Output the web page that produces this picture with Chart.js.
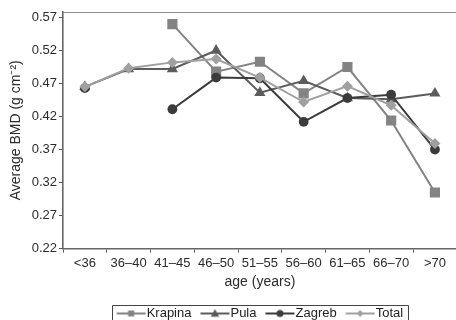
<!DOCTYPE html>
<html>
<head>
<meta charset="utf-8">
<script src="https://cdn.jsdelivr.net/npm/chart.js@4/dist/chart.umd.min.js"></script>
<style>
  html, body { margin: 0; padding: 0; overflow: hidden; background: #fff; }
  #wrap { width: 464px; height: 330px; }
</style>
</head>
<body>
<div id="wrap"><canvas id="bmdChart"></canvas></div>
<script>
var ageGroups = ["<36", "36–40", "41–45", "46–50", "51–55", "56–60", "61–65", "66–70", ">70"];
var yTicks = [0.22, 0.27, 0.32, 0.37, 0.42, 0.47, 0.52, 0.57];

var krapina = [null, null, 0.560, 0.488, 0.503, 0.455, 0.495, 0.414, 0.305];
var pula = [0.465, 0.492, 0.492, 0.520, 0.456, 0.474, 0.448, 0.446, 0.455];
var zagreb = [0.463, null, 0.431, 0.479, 0.478, 0.412, 0.448, 0.453, 0.370];
var total = [0.465, 0.493, 0.502, 0.507, 0.479, 0.442, 0.466, 0.437, 0.379];

var FONT = "'Liberation Sans', Arial, Helvetica, sans-serif";
var TEXT = "#2b2b2b";

// little "line + marker" pictures for the legend
// (canvas is 36 wide, drawing sits from 6.25 to 35.25 so it starts at the item's left edge)
function legendIcon(color, style, r) {
  var c = document.createElement("canvas");
  c.width = 36;
  c.height = 12;
  var g = c.getContext("2d");
  g.strokeStyle = color;
  g.fillStyle = color;
  g.lineWidth = 2;
  g.beginPath();
  g.moveTo(6.25, 6);
  g.lineTo(35.25, 6);
  g.stroke();
  var x = 20.75, y = 6;
  g.beginPath();
  if (style === "rect") {
    g.rect(x - r, y - r, 2 * r, 2 * r);
  } else if (style === "triangle") {
    g.moveTo(x, y - r);
    g.lineTo(x + r * 0.95, y + r * 0.7);
    g.lineTo(x - r * 0.95, y + r * 0.7);
    g.closePath();
  } else if (style === "circle") {
    g.arc(x, y, r, 0, Math.PI * 2);
  } else {
    g.moveTo(x, y - r);
    g.lineTo(x + r, y);
    g.lineTo(x, y + r);
    g.lineTo(x - r, y);
    g.closePath();
  }
  g.fill();
  return c;
}

var colors = ["#838383", "#5c5c5c", "#3b3b3b", "#a0a0a0"];
var icons = [
  legendIcon(colors[0], "rect", 3),
  legendIcon(colors[1], "triangle", 4.5),
  legendIcon(colors[2], "circle", 3.5),
  legendIcon(colors[3], "diamond", 3.5)
];

var framePlugin = {
  id: "frame",
  afterDraw: function (chart) {
    var ctx = chart.ctx;
    var a = chart.chartArea;
    ctx.save();
    ctx.strokeStyle = "#8c8c8c";
    ctx.lineWidth = 1;
    ctx.beginPath();
    ctx.moveTo(a.left, a.top + 0.5);
    ctx.lineTo(a.right, a.top + 0.5);
    ctx.stroke();

    // box round the legend items
    var boxes = chart.legend.legendHitBoxes;
    if (boxes && boxes.length) {
      var l = Infinity, r = -Infinity, t = Infinity, b = -Infinity;
      boxes.forEach(function (h) {
        l = Math.min(l, h.left);
        r = Math.max(r, h.left + h.width);
        t = Math.min(t, h.top);
        b = Math.max(b, h.top + h.height);
      });
      ctx.strokeStyle = "#444";
      ctx.beginPath();
      ctx.rect(Math.round(l - 4.5) + 0.5, Math.round(t - 2.5) + 0.5, Math.round(r - l + 10), Math.round(b - t + 8));
      ctx.stroke();
    }
    ctx.restore();
  }
};

var ctx = document.getElementById("bmdChart").getContext("2d");
var bmdChart = new Chart(ctx, {
  type: "line",
  data: {
    labels: ageGroups,
    datasets: [
      {
        label: "Krapina",
        data: krapina,
        borderColor: colors[0],
        backgroundColor: colors[0],
        pointStyle: "rect",
        pointRadius: 7.2,
        order: 4
      },
      {
        label: "Pula",
        data: pula,
        borderColor: colors[1],
        backgroundColor: colors[1],
        pointStyle: "triangle",
        pointRadius: 6.4,
        order: 3
      },
      {
        label: "Zagreb",
        data: zagreb,
        borderColor: colors[2],
        backgroundColor: colors[2],
        pointStyle: "circle",
        pointRadius: 4.9,
        order: 2
      },
      {
        label: "Total",
        data: total,
        borderColor: colors[3],
        backgroundColor: colors[3],
        pointStyle: "rectRot",
        pointRadius: 5.5,
        order: 1
      }
    ]
  },
  options: {
    responsive: true,
    maintainAspectRatio: false,
    animation: false,
    elements: {
      line: { borderWidth: 2, tension: 0, fill: false },
      point: { borderWidth: 0, hoverRadius: 6 }
    },
    layout: { padding: { top: 12, left: 0, right: 0, bottom: 0 } },
    scales: {
      x: {
        type: "category",
        offset: true,
        grid: {
          display: true,
          offset: true,
          drawOnChartArea: false,
          drawTicks: true,
          tickLength: 4,
          color: "#555"
        },
        border: { display: true, color: "#666", width: 1.6 },
        ticks: {
          autoSkip: false,
          maxRotation: 0,
          padding: 3,
          color: TEXT,
          font: { family: FONT, size: 13 }
        },
        title: {
          display: true,
          text: "age (years)",
          color: TEXT,
          padding: { top: 0, bottom: 7 },
          font: { family: FONT, size: 14 }
        }
      },
      y: {
        type: "linear",
        min: 0.22,
        max: 0.5783,
        afterBuildTicks: function (scale) {
          scale.ticks = yTicks.map(function (v) { return { value: v }; });
        },
        afterFit: function (scale) {
          scale.width = 63;
        },
        grid: {
          display: true,
          drawOnChartArea: false,
          drawTicks: true,
          tickLength: 4,
          color: "#555"
        },
        border: { display: true, color: "#666", width: 1.6 },
        ticks: {
          padding: 2,
          color: TEXT,
          font: { family: FONT, size: 13 },
          callback: function (v) { return Number(v).toFixed(2); }
        },
        title: {
          display: true,
          text: "Average BMD (g cm⁻²)",
          color: TEXT,
          padding: { top: 7.5, bottom: 0 },
          font: { family: FONT, size: 14 }
        }
      }
    },
    plugins: {
      tooltip: { enabled: false },
      legend: {
        position: "bottom",
        fullSize: false,
        labels: {
          usePointStyle: true,
          pointStyleWidth: 23.5,
          padding: 9,
          color: "#222",
          font: { family: FONT, size: 13 },
          generateLabels: function (chart) {
            return chart.data.datasets.map(function (ds, i) {
              return {
                text: ds.label,
                pointStyle: icons[i],
                fillStyle: ds.borderColor,
                strokeStyle: ds.borderColor,
                lineWidth: 0,
                hidden: false,
                datasetIndex: i,
                fontColor: "#222"
              };
            });
          }
        }
      }
    }
  },
  plugins: [framePlugin]
});
</script>
</body>
</html>
